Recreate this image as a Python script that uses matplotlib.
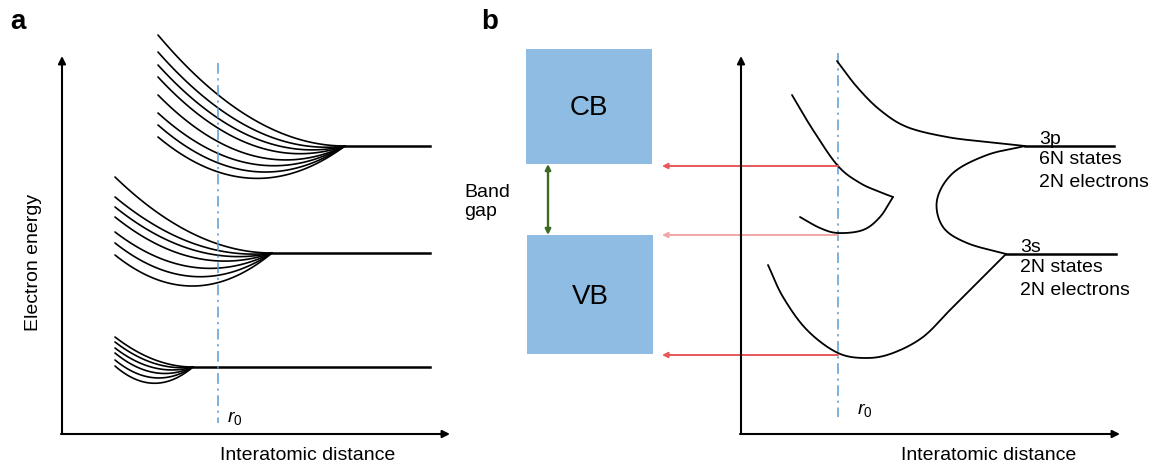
import numpy as np
import matplotlib.pyplot as plt

plt.rcParams['font.family'] = ['Liberation Sans', 'DejaVu Sans']
plt.rcParams['mathtext.fontset'] = 'custom'
plt.rcParams['mathtext.it'] = 'Liberation Sans:italic'
plt.rcParams['mathtext.rm'] = 'Liberation Sans'

# ---- panel a: bands splitting out of atomic levels (canvas pixel units) ----
upper_x0 = 158
upper_merge = (345, 146)
upper_start_y = [35, 52, 65, 77, 95, 113, 125, 137]
upper_ctrl_y = [146, 158, 168, 178, 190, 198, 207, 215]

middle_x0 = 115
middle_merge = (272, 253)
middle_start_y = [177, 197, 207, 217, 232, 243, 255]
middle_ctrl_y = [253, 262, 270, 280, 292, 305, 318]

lower_x0 = 115
lower_merge = (193, 367)
lower_start_y = [337, 342, 348, 353, 360, 366]
lower_ctrl_y = [367, 372, 378, 385, 392, 400]

level_end_a = 430

# ---- panel b: 3s / 3p bands ----
p3_upper = [(837, 61), (857, 87), (880, 110), (907, 127), (947, 137), (987, 142), (1025, 146)]
p3_lower = [(1025, 146), (987, 155), (953, 173), (937, 200), (943, 227), (967, 243), (1006, 254)]
cb_edge_down = [(792, 95), (813, 130), (838, 166), (860, 183), (880, 192), (893, 197)]
cb_edge_up = [(893, 197), (880, 217), (863, 230), (838, 233), (820, 228), (800, 217)]
vb_edge = [(768, 265), (783, 297), (807, 330), (838, 353), (867, 358), (893, 353),
           (923, 337), (950, 310), (983, 277), (1006, 254)]

level_3p = (1025, 1114, 146)
level_3s = (1006, 1116, 254)
labels_3p = ['3p', '6N states', '2N electrons']
labels_3s = ['3s', '2N states', '2N electrons']

r0_b = 838
edge_y = [166, 235, 355]
edge_colors = ['#e9575b', '#f3a6a8', '#e9575b']


def bezier(x0, y0, xe, ye, yc, n=80):
    t = np.linspace(0, 1, n)
    xc = 0.5 * (x0 + xe)
    x = (1 - t)**2 * x0 + 2 * t * (1 - t) * xc + t**2 * xe
    y = (1 - t)**2 * y0 + 2 * t * (1 - t) * yc + t**2 * ye
    return x, y


def smooth(pts, n=30):
    p = np.asarray(pts, float)
    p = np.vstack([2 * p[0] - p[1], p, 2 * p[-1] - p[-2]])
    t = np.linspace(0, 1, n)[:, None]
    out = []
    for i in range(1, len(p) - 2):
        p0, p1, p2, p3 = p[i - 1], p[i], p[i + 1], p[i + 2]
        seg = 0.5 * (2 * p1 + (-p0 + p2) * t + (2 * p0 - 5 * p1 + 4 * p2 - p3) * t**2
                     + (-p0 + 3 * p1 - 3 * p2 + p3) * t**3)
        out.append(seg)
    out = np.vstack(out)
    return out[:, 0], out[:, 1]


def axis_arrow(ax, start, end):
    ax.annotate('', xy=end, xytext=start,
                arrowprops=dict(arrowstyle='-|>', color='k', lw=1.5,
                                mutation_scale=11, shrinkA=0, shrinkB=0))


fig = plt.figure(figsize=(11.54, 4.70), dpi=100)
ax = fig.add_axes([0, 0, 1, 1])
ax.set_xlim(0, 1154)
ax.set_ylim(470, 0)
ax.axis('off')

fs = 14

# panel a
ax.text(18, 22, 'a', fontsize=20, fontweight='bold', ha='center', va='center')
axis_arrow(ax, (62, 434), (62, 56))
axis_arrow(ax, (61, 434), (450, 434))
ax.text(33, 262, 'Electron energy', rotation=90, fontsize=fs, ha='center', va='center')
ax.text(308, 456, 'Interatomic distance', fontsize=fs, ha='center', va='center')

for x0, merge, starts, ctrls in [(upper_x0, upper_merge, upper_start_y, upper_ctrl_y),
                                 (middle_x0, middle_merge, middle_start_y, middle_ctrl_y),
                                 (lower_x0, lower_merge, lower_start_y, lower_ctrl_y)]:
    for y0, yc in zip(starts, ctrls):
        x, y = bezier(x0, y0, merge[0], merge[1], yc)
        ax.plot(x, y, color='k', lw=1.2, solid_capstyle='round')
    ax.plot([merge[0], level_end_a], [merge[1], merge[1]], color='k', lw=1.8)

ax.plot([218, 218], [63, 423], color='#5b9bd5', lw=1.1, linestyle=(0, (7, 3, 1.5, 3)))
ax.text(227, 418, r'$r_0$', fontsize=fs, ha='left', va='center')

# panel b
ax.text(490, 22, 'b', fontsize=20, fontweight='bold', ha='center', va='center')
box_color = '#8ebce3'
ax.add_patch(plt.Rectangle((526, 49), 126, 115, color=box_color, lw=0))
ax.add_patch(plt.Rectangle((527, 235), 126, 119, color=box_color, lw=0))
ax.text(589, 108, 'CB', fontsize=20, ha='center', va='center')
ax.text(590, 297, 'VB', fontsize=20, ha='center', va='center')

ax.annotate('', xy=(548, 235), xytext=(548, 164),
            arrowprops=dict(arrowstyle='<|-|>', color='#3b6b22', lw=1.7,
                            mutation_scale=8, shrinkA=0, shrinkB=0))
ax.text(464, 202, 'Band\ngap', fontsize=fs, ha='left', va='center', linespacing=1.2)

for y, c in zip(edge_y, edge_colors):
    ax.annotate('', xy=(662, y), xytext=(r0_b, y),
                arrowprops=dict(arrowstyle='-|>', color=c, lw=1.4,
                                mutation_scale=8, shrinkA=0, shrinkB=0))

axis_arrow(ax, (741, 434), (741, 56))
axis_arrow(ax, (740, 434), (1120, 434))
ax.text(989, 456, 'Interatomic distance', fontsize=fs, ha='center', va='center')

ax.plot([r0_b, r0_b], [53, 417], color='#5b9bd5', lw=1.1, linestyle=(0, (7, 3, 1.5, 3)))
ax.text(857, 410, r'$r_0$', fontsize=fs, ha='left', va='center')

for pts in [p3_upper, p3_lower, cb_edge_down, cb_edge_up, vb_edge]:
    x, y = smooth(pts)
    ax.plot(x, y, color='k', lw=1.3, solid_capstyle='round')

for (xa, xb, yl), labels in [(level_3p, labels_3p), (level_3s, labels_3s)]:
    ax.plot([xa, xb], [yl, yl], color='k', lw=1.8)
    ax.text(xa + 14, yl - 2, labels[0], fontsize=fs, ha='left', va='baseline')
    ax.text(xa + 14, yl + 18, labels[1], fontsize=fs, ha='left', va='baseline')
    ax.text(xa + 14, yl + 41, labels[2], fontsize=fs, ha='left', va='baseline')

fig.savefig('out.png', dpi=100)
